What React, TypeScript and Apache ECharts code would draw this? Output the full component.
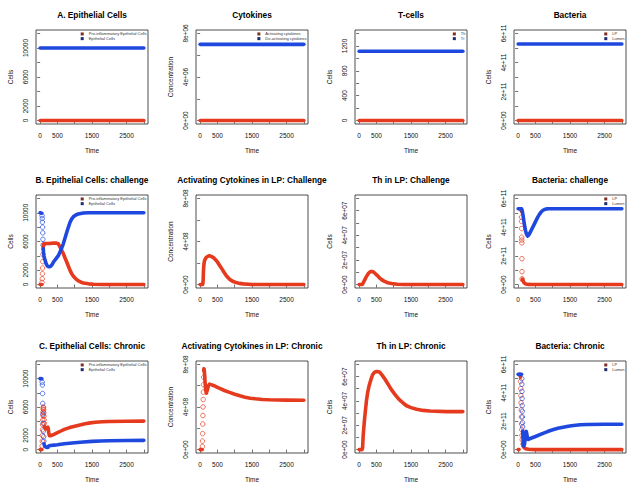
import React, { useEffect, useRef } from "react";
import * as echarts from "echarts";

const FONT = "'Liberation Sans', Arial, Helvetica, sans-serif";
const RED = "#e63a1f";
const BLUE = "#1f48df";
const RED_KEY = "#7a2e26";
const BLUE_KEY = "#1e2a6e";

// ---- axes ----
const X_TICKS = [0, 500, 1000, 1500, 2000, 2500, 3000];
const X_LABELS = [0, 500, 1500, 2500];
const EPI_TICKS = [0, 2000, 4000, 6000, 8000, 10000, 12000];
const EPI_LABELS = [0, 2000, 6000, 10000];
const CYT6_TICKS = [0, 2e6, 4e6, 6e6, 8e6];
const CYT6_LABELS = [0, 4e6, 8e6];
const CYT8_TICKS = [0, 2e8, 4e8, 6e8, 8e8];
const CYT8_LABELS = [0, 4e8, 8e8];
const TC_TICKS = [0, 200, 400, 600, 800, 1000, 1200, 1400];
const TC_LABELS = [0, 400, 800, 1200];
const TH_TICKS = [0, 1e7, 2e7, 3e7, 4e7, 5e7, 6e7, 7e7];
const TH_LABELS = [0, 2e7, 4e7, 6e7];
const BAC_TICKS = [0, 1e11, 2e11, 3e11, 4e11, 5e11, 6e11];
const BAC_LABELS = [0, 2e11, 4e11, 6e11];

// ---- data: [time, value] ----
// Row A (steady state)
const epiA_pro = [[0, 0], [3000, 0]];
const epiA_epi = [[0, 10000], [3000, 10000]];
const cytA_act = [[0, 0], [3000, 0]]; // x1e6
const cytA_deact = [[0, 7.0], [3000, 7.0]]; // x1e6
const tA_th = [[0, 0], [3000, 0]];
const tA_tr = [[0, 1115], [3000, 1115]];
const bacA_lp = [[0, 0], [3000, 0]]; // x1e11
const bacA_lumen = [[0, 5.28], [3000, 5.28]]; // x1e11

// Row B (challenge)
const epiB_pro_1 = [[0, 0], [50, 0]];
const epiB_pro_open = [[55, 300], [60, 800], [65, 1500], [70, 2300], [75, 3200], [80, 4200]];
const epiB_pro_2 = [[86, 5000], [95, 5550], [110, 5700], [200, 5720], [300, 5740], [400, 5780], [470, 5780], [530, 5650], [577, 5200], [625, 4750], [673, 4290], [720, 3700], [769, 3140], [817, 2550], [865, 1980], [912, 1520], [962, 1150], [1030, 800], [1106, 510], [1180, 330], [1250, 230], [1400, 100], [1540, 50], [1800, 15], [3000, 0]];
const epiB_epi_1 = [[0, 10000], [50, 9950]];
const epiB_epi_open = [[55, 9600], [60, 9200], [65, 8700], [70, 8000], [75, 7200], [80, 6300], [85, 5500]];
const epiB_epi_2 = [[90, 5000], [96, 4520], [110, 4000], [125, 3650], [144, 3370], [170, 2950], [200, 2650], [240, 2480], [275, 2480], [308, 2560], [340, 2750], [385, 3140], [450, 3550], [530, 4060], [600, 4800], [670, 5680], [720, 6500], [770, 7290], [820, 8050], [865, 8680], [910, 9120], [960, 9460], [1030, 9700], [1100, 9830], [1250, 9970], [1400, 10000], [3000, 10000]];
const cytB_act = [[0, 0], [70, 0], [80, 0.1], [88, 0.5], [96, 1.3], [110, 1.9], [125, 2.2], [144, 2.35], [170, 2.5], [200, 2.58], [240, 2.65], [270, 2.67], [320, 2.62], [385, 2.5], [440, 2.33], [500, 2.1], [560, 1.8], [625, 1.48], [690, 1.15], [750, 0.86], [810, 0.63], [865, 0.46], [940, 0.31], [1010, 0.22], [1130, 0.11], [1250, 0.06], [1500, 0.01], [3000, 0]]; // x1e8
const thB = [[0, 0], [90, 0], [110, 0.08], [130, 0.2], [165, 0.4], [200, 0.6], [232, 0.75], [270, 0.92], [310, 1.02], [357, 1.07], [400, 1.04], [425, 1.0], [470, 0.88], [520, 0.75], [580, 0.57], [650, 0.4], [720, 0.28], [790, 0.19], [860, 0.12], [937, 0.08], [1100, 0.02], [1300, 0], [3000, 0]]; // x1e7
const bacB_lp_1 = [[0, 0], [20, 0]];
const bacB_lp_2 = [[30, 5.28], [85, 5.26], [92, 5.1]];
const bacB_lp_open = [[96, 4.7], [99, 4.4], [101, 3.9], [103, 3.3], [105, 3.1], [107, 2.9], [109, 1.8], [111, 0.9], [113, 0.4]];
const bacB_lp_3 = [[115, 0.3], [125, 0.38], [140, 0.3], [170, 0.12], [220, 0.04], [300, 0.01], [400, 0], [3000, 0]];
const bacB_lumen = [[0, 5.28], [100, 5.28], [115, 5.18], [140, 4.85], [163, 4.47], [190, 4.05], [212, 3.77], [240, 3.52], [270, 3.38], [308, 3.45], [340, 3.6], [375, 3.77], [420, 3.98], [471, 4.23], [520, 4.47], [567, 4.7], [615, 4.89], [663, 5.05], [710, 5.16], [760, 5.23], [820, 5.27], [885, 5.28], [3000, 5.28]];

// Row C (chronic)
const epiC_pro_1 = [[0, 0], [50, 0]];
const epiC_pro_open = [[56, 500], [60, 1200], [64, 2000], [68, 2800], [72, 3500], [76, 4200], [80, 4800], [84, 5300], [88, 5700], [92, 6000], [96, 5900], [100, 5600], [105, 5200], [110, 4700], [115, 4200], [120, 3700]];
const epiC_pro_2 = [[125, 3300], [140, 3050], [170, 2950], [200, 3100], [220, 3150], [235, 3000], [250, 2300], [270, 1950], [300, 1950], [400, 2150], [500, 2380], [600, 2620], [700, 2850], [850, 3100], [1000, 3300], [1150, 3480], [1300, 3650], [1450, 3760], [1600, 3850], [1800, 3920], [2000, 3960], [2500, 4000], [3000, 4010]];
const epiC_epi_1 = [[0, 10000], [50, 9980]];
const epiC_epi_open = [[58, 9500], [64, 9100], [70, 7900], [76, 6500], [82, 5000], [88, 3700], [94, 2600], [100, 1800], [106, 1200]];
const epiC_epi_2 = [[112, 800], [130, 500], [160, 350], [200, 300], [230, 330], [245, 520], [260, 560], [300, 580], [400, 630], [500, 680], [700, 820], [850, 900], [1000, 970], [1250, 1080], [1500, 1160], [1750, 1220], [2000, 1250], [2500, 1290], [3000, 1300]];
const cytC_1 = [[0, 0], [60, 0]]; // x1e8
const cytC_open = [[64, 0.3], [68, 0.8], [72, 1.5], [76, 2.4], [80, 3.2], [84, 4.0], [88, 4.7], [92, 5.4], [96, 6.1], [100, 6.8]];
const cytC_2 = [[104, 7.4], [110, 7.6], [118, 7.5], [130, 7.0], [145, 6.2], [160, 5.6], [180, 5.3], [195, 5.3], [215, 5.7], [240, 6.0], [270, 6.15], [320, 6.1], [400, 6.0], [500, 5.85], [600, 5.7], [700, 5.55], [850, 5.37], [1000, 5.2], [1150, 5.05], [1300, 4.92], [1450, 4.83], [1600, 4.77], [1800, 4.71], [2000, 4.68], [2500, 4.65], [3000, 4.64]];
const thC = [[0, 0], [85, 0], [100, 0.15], [116, 1.1], [135, 1.8], [155, 2.45], [185, 3.3], [213, 4.06], [250, 4.75], [290, 5.27], [340, 5.75], [386, 6.13], [440, 6.35], [500, 6.42], [560, 6.4], [600, 6.34], [670, 6.1], [744, 5.8], [820, 5.45], [889, 5.13], [960, 4.82], [1034, 4.54], [1100, 4.3], [1179, 4.06], [1270, 3.83], [1372, 3.6], [1500, 3.45], [1662, 3.31], [1850, 3.22], [2048, 3.17], [2531, 3.12], [3000, 3.12]]; // x1e7
const bacC_lp_1 = [[0, 0], [25, 0]];
const bacC_lp_2 = [[30, 5.3], [60, 5.3], [65, 5.1]];
const bacC_lp_open = [[70, 4.8], [75, 4.3], [80, 3.8], [85, 3.3], [90, 2.8], [95, 2.3], [100, 1.8], [105, 1.4], [110, 1.0], [115, 0.7]];
const bacC_lp_3 = [[120, 0.4], [140, 0.25], [170, 0.15], [220, 0.06], [300, 0.02], [500, 0], [3000, 0]];
const bacC_lumen_1 = [[0, 5.3], [100, 5.3]];
const bacC_lumen_open = [[105, 5.0], [108, 4.6], [111, 4.1], [114, 3.6], [117, 3.1], [120, 2.7], [123, 2.3], [126, 1.9], [129, 1.6]];
const bacC_lumen_2 = [[132, 1.3], [140, 0.8], [150, 0.4], [165, 0.25], [185, 0.4], [205, 0.8], [220, 1.15], [235, 1.28], [250, 1.1], [270, 0.8], [290, 0.72], [350, 0.78], [500, 0.92], [700, 1.12], [850, 1.27], [1000, 1.4], [1150, 1.5], [1300, 1.58], [1450, 1.65], [1600, 1.7], [1800, 1.75], [2000, 1.77], [2500, 1.79], [3000, 1.79]];

// ---- names ----
const N_PRO = "Pro-inflammatory Epithelial Cells";
const N_EPI = "Epithelial Cells";
const N_ACT = "Activating cytokines";
const N_DEACT = "De-activating cytokines";
const N_TH = "Th";
const N_TR = "Tr";
const N_LP = "LP";
const N_LUMEN = "Lumen";

type Curve = { name: string; color: string; segs: number[][][]; open?: number[][] };
type Panel = {
  title: string; yName: string; ticks: number[]; labels: number[]; sci: boolean;
  unit: number; curves: Curve[]; legend?: [string, string];
};

const panels: Panel[] = [
  { title: "A. Epithelial Cells", yName: "Cells", ticks: EPI_TICKS, labels: EPI_LABELS, sci: false, unit: 1,
    curves: [{ name: N_PRO, color: RED, segs: [epiA_pro] }, { name: N_EPI, color: BLUE, segs: [epiA_epi] }], legend: [N_PRO, N_EPI] },
  { title: "Cytokines", yName: "Concentration", ticks: CYT6_TICKS, labels: CYT6_LABELS, sci: true, unit: 1e6,
    curves: [{ name: N_ACT, color: RED, segs: [cytA_act] }, { name: N_DEACT, color: BLUE, segs: [cytA_deact] }], legend: [N_ACT, N_DEACT] },
  { title: "T-cells", yName: "Cells", ticks: TC_TICKS, labels: TC_LABELS, sci: false, unit: 1,
    curves: [{ name: N_TH, color: RED, segs: [tA_th] }, { name: N_TR, color: BLUE, segs: [tA_tr] }], legend: [N_TH, N_TR] },
  { title: "Bacteria", yName: "Cells", ticks: BAC_TICKS, labels: BAC_LABELS, sci: true, unit: 1e11,
    curves: [{ name: N_LP, color: RED, segs: [bacA_lp] }, { name: N_LUMEN, color: BLUE, segs: [bacA_lumen] }], legend: [N_LP, N_LUMEN] },

  { title: "B. Epithelial Cells: challenge", yName: "Cells", ticks: EPI_TICKS, labels: EPI_LABELS, sci: false, unit: 1,
    curves: [{ name: N_PRO, color: RED, segs: [epiB_pro_1, epiB_pro_2], open: epiB_pro_open },
             { name: N_EPI, color: BLUE, segs: [epiB_epi_1, epiB_epi_2], open: epiB_epi_open }], legend: [N_PRO, N_EPI] },
  { title: "Activating Cytokines in LP: Challenge", yName: "Concentration", ticks: CYT8_TICKS, labels: CYT8_LABELS, sci: true, unit: 1e8,
    curves: [{ name: N_ACT, color: RED, segs: [cytB_act] }] },
  { title: "Th in LP: Challenge", yName: "Cells", ticks: TH_TICKS, labels: TH_LABELS, sci: true, unit: 1e7,
    curves: [{ name: N_TH, color: RED, segs: [thB] }] },
  { title: "Bacteria: challenge", yName: "Cells", ticks: BAC_TICKS, labels: BAC_LABELS, sci: true, unit: 1e11,
    curves: [{ name: N_LP, color: RED, segs: [bacB_lp_1, bacB_lp_2, bacB_lp_3], open: bacB_lp_open },
             { name: N_LUMEN, color: BLUE, segs: [bacB_lumen] }], legend: [N_LP, N_LUMEN] },

  { title: "C. Epithelial Cells: Chronic", yName: "Cells", ticks: EPI_TICKS, labels: EPI_LABELS, sci: false, unit: 1,
    curves: [{ name: N_PRO, color: RED, segs: [epiC_pro_1, epiC_pro_2], open: epiC_pro_open },
             { name: N_EPI, color: BLUE, segs: [epiC_epi_1, epiC_epi_2], open: epiC_epi_open }], legend: [N_PRO, N_EPI] },
  { title: "Activating Cytokines in LP: Chronic", yName: "Concentration", ticks: CYT8_TICKS, labels: CYT8_LABELS, sci: true, unit: 1e8,
    curves: [{ name: N_ACT, color: RED, segs: [cytC_1, cytC_2], open: cytC_open }] },
  { title: "Th in LP: Chronic", yName: "Cells", ticks: TH_TICKS, labels: TH_LABELS, sci: true, unit: 1e7,
    curves: [{ name: N_TH, color: RED, segs: [thC] }] },
  { title: "Bacteria: Chronic", yName: "Cells", ticks: BAC_TICKS, labels: BAC_LABELS, sci: true, unit: 1e11,
    curves: [{ name: N_LP, color: RED, segs: [bacC_lp_1, bacC_lp_2, bacC_lp_3], open: bacC_lp_open },
             { name: N_LUMEN, color: BLUE, segs: [bacC_lumen_1, bacC_lumen_2], open: bacC_lumen_open }], legend: [N_LP, N_LUMEN] },
];

// ---- layout ----
const W = 637;
const H = 491;
const COL_LEFT = [36, 196, 355, 514];
const ROW_TOP = [30, 195, 361];
const ROW_H = [94, 93, 92];
const PLOT_W = 112;
const X_MIN = -120;
const X_MAX = 3120;

function sci(v: number): string {
  if (v === 0) return "0e+00";
  const e = Math.floor(Math.log10(Math.abs(v)) + 1e-9);
  const m = Math.round(v / Math.pow(10, e));
  return `${m}e+${String(e).padStart(2, "0")}`;
}

function buildOption() {
  const grid: any[] = [];
  const xAxis: any[] = [];
  const yAxis: any[] = [];
  const series: any[] = [];
  const legend: any[] = [];
  const graphic: any[] = [];

  panels.forEach((p, i) => {
    const col = i % 4;
    const row = Math.floor(i / 4);
    const left = COL_LEFT[col];
    const top = ROW_TOP[row];
    const h = ROW_H[row];
    grid.push({ left, top, width: PLOT_W, height: h, show: true, borderColor: "#222", borderWidth: 0.8,
      backgroundColor: "transparent", containLabel: false, outerBoundsMode: "none" });
    xAxis.push({
      gridIndex: i, type: "value", min: X_MIN, max: X_MAX,
      name: "Time", nameLocation: "middle", nameGap: 23,
      nameTextStyle: { fontSize: 6.5, color: "#111", fontFamily: FONT },
      axisLine: { show: false },
      axisTick: { show: true, customValues: X_TICKS, length: 3, lineStyle: { color: "#333", width: 0.7 } },
      axisLabel: { show: true, customValues: X_LABELS, fontSize: 6.5, margin: 8, color: "#111", fontFamily: FONT,
        formatter: (v: number) => String(Math.round(v)) },
      splitLine: { show: false },
    });
    const lo = p.ticks[0];
    const hi = p.ticks[p.ticks.length - 1];
    const pad = (hi - lo) * 0.04;
    yAxis.push({
      gridIndex: i, type: "value", min: lo - pad, max: hi + pad,
      name: p.yName, nameLocation: "middle", nameGap: 22, nameRotate: 90,
      nameTextStyle: { fontSize: 6.5, color: "#111", fontFamily: FONT },
      axisLine: { show: false },
      axisTick: { show: true, customValues: p.ticks, length: 3, lineStyle: { color: "#333", width: 0.7 } },
      axisLabel: { show: true, customValues: p.labels, rotate: 90, fontSize: 6.5, margin: 7, color: "#111",
        fontFamily: FONT, formatter: (v: number) => (p.sci ? sci(v) : String(Math.round(v))) },
      splitLine: { show: false },
    });
    graphic.push({
      type: "text", x: left + PLOT_W / 2, y: top - 15, silent: true,
      style: { text: p.title, fontSize: 8.3, fontWeight: "bold", fontFamily: FONT, fill: "#000",
        align: "center", verticalAlign: "middle" },
    });
    p.curves.forEach((c) => {
      c.segs.forEach((seg) => {
        series.push({
          type: "line", name: c.name, xAxisIndex: i, yAxisIndex: i,
          data: seg.map(([t, v]) => [t, v * p.unit]),
          showSymbol: false, symbol: "none", silent: true,
          lineStyle: { color: c.color, width: 3.6, cap: "round", join: "round" },
          itemStyle: { color: c.color },
        });
      });
      if (c.open && c.open.length) {
        series.push({
          type: "scatter", name: c.name, xAxisIndex: i, yAxisIndex: i,
          data: c.open.map(([t, v]) => [t, v * p.unit]),
          symbol: "circle", symbolSize: 4.5, silent: true,
          itemStyle: { color: "rgba(255,255,255,0)", borderColor: c.color, borderWidth: 0.8, opacity: 0.9 },
        });
      }
    });
    if (p.legend) {
      legend.push({
        orient: "vertical", right: W - (left + PLOT_W) + 1.5, top: top + 1.6,
        itemWidth: 3, itemHeight: 3, itemGap: 0, padding: 0, icon: "rect", selectedMode: false,
        itemStyle: { borderWidth: 0 },
        textStyle: { fontSize: 4, lineHeight: 4.7, color: "#333", fontFamily: FONT },
        data: p.legend.map((n, k) => ({ name: n, itemStyle: { color: k === 0 ? RED_KEY : BLUE_KEY, borderWidth: 0 } })),
      });
    }
  });

  return {
    animation: false,
    backgroundColor: "#ffffff",
    textStyle: { fontFamily: FONT },
    grid, xAxis, yAxis, series, legend, graphic,
  };
}

export default function App() {
  const ref = useRef<HTMLDivElement>(null);
  useEffect(() => {
    if (!ref.current) return;
    const chart = echarts.init(ref.current, null, { renderer: "svg" });
    chart.setOption(buildOption() as any);
    return () => chart.dispose();
  }, []);
  return (
    <div
      ref={ref}
      style={{ position: "fixed", left: 0, top: 0, width: W, height: H, background: "#fff" }}
    />
  );
}
